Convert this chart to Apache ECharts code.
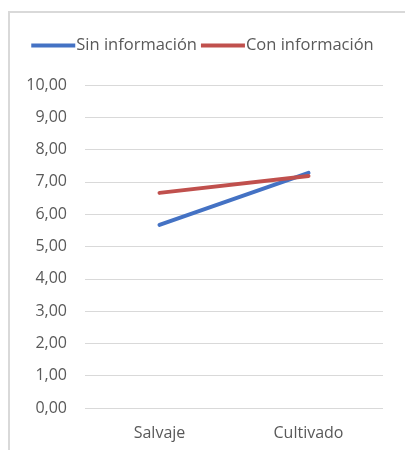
<!DOCTYPE html>
<html>
<head>
<meta charset="utf-8">
<script src="https://cdn.jsdelivr.net/npm/echarts@6/dist/echarts.min.js"></script>
<style>
  html, body { margin: 0; padding: 0; background: #fff; }
  .frame {
    position: absolute; left: 8px; top: 11px; width: 420px; height: 460px;
    border: 2px solid #d9d9d9; box-sizing: border-box;
  }
  #chart { position: absolute; left: 0; top: 0; width: 405px; height: 450px; }
</style>
</head>
<body>
<div class="frame"></div>
<div id="chart"></div>
<script>
const categories = ['Salvaje', 'Cultivado']
const sinInfo = [5.67, 7.28]
const conInfo = [6.66, 7.18]
const seriesNames = ['Sin información', 'Con información']

const fmt = v => v.toFixed(2).replace('.', ',')

const drawChart = () => {
  var chart = echarts.init(document.getElementById('chart'))
  var option = {
    animation: false,
    textStyle: { fontFamily: 'Open Sans, sans-serif' },
    legend: {
      top: 32,
      left: 'center',
      itemWidth: 44,
      itemHeight: 4,
      itemGap: 4,
      icon: 'rect',
      textStyle: { color: '#595959', fontSize: 16.5, padding: [0, 0, 0, -4] },
      data: seriesNames
    },
    grid: { left: 85, right: 22, top: 85, bottom: 42 },
    xAxis: {
      type: 'category',
      boundaryGap: true,
      data: categories,
      axisLine: { show: false },
      axisTick: { show: false },
      axisLabel: { color: '#595959', fontSize: 16, margin: 17 }
    },
    yAxis: {
      type: 'value',
      min: 0,
      max: 10,
      interval: 1,
      axisLine: { show: false },
      axisTick: { show: false },
      axisLabel: { color: '#595959', fontSize: 16, margin: 18, formatter: fmt },
      splitLine: { lineStyle: { color: '#d9d9d9', width: 1 } }
    },
    series: [
      {
        name: seriesNames[0],
        type: 'line',
        data: sinInfo,
        symbol: 'none',
        color: '#4472c4',
        lineStyle: { width: 4, cap: 'round' }
      },
      {
        name: seriesNames[1],
        type: 'line',
        data: conInfo,
        symbol: 'none',
        color: '#c0504d',
        lineStyle: { width: 4, cap: 'round' }
      }
    ]
  }
  chart.setOption(option)
}
drawChart()
</script>
</body>
</html>
